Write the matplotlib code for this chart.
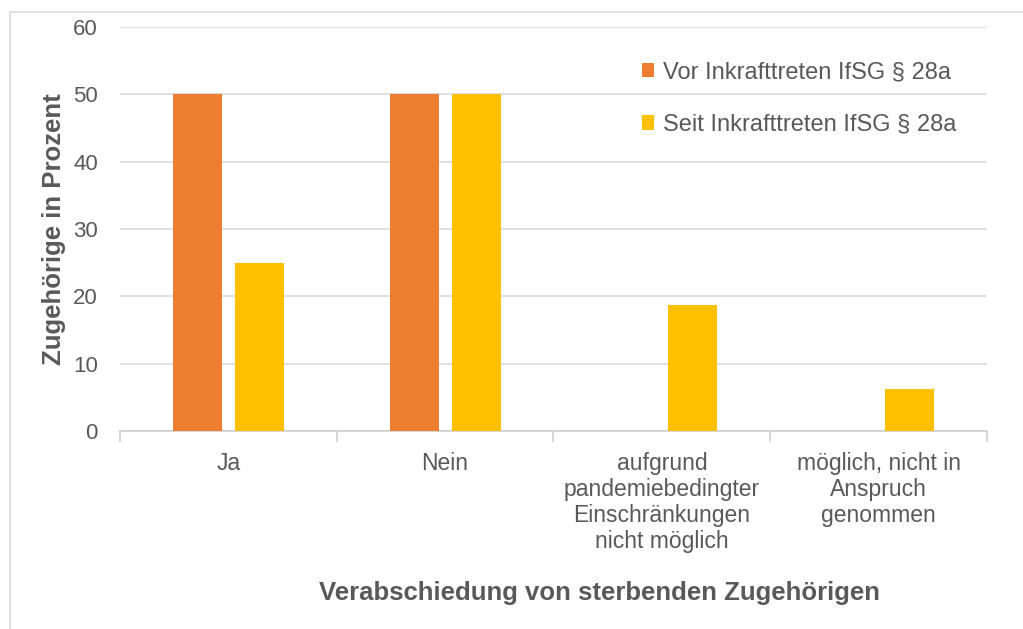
import numpy as np
import matplotlib.pyplot as plt
from matplotlib.patches import Rectangle

categories = ["Ja", "Nein", "aufgrund\npandemiebedingter\nEinschränkungen\nnicht möglich",
              "möglich, nicht in\nAnspruch\ngenommen"]
vor = [50, 50, 0, 0]
seit = [25, 50, 18.75, 6.25]
series_names = ["Vor Inkrafttreten IfSG § 28a", "Seit Inkrafttreten IfSG § 28a"]

plt.rcParams['font.family'] = ['Liberation Sans', 'DejaVu Sans']
grey = "#595959"

fig = plt.figure(figsize=(10.23, 6.29), dpi=100)
ax = fig.add_axes([0.1173, 0.3148, 0.8475, 0.6422])

x = np.arange(len(categories))
w = 0.226
ax.bar(x - 0.143, vor, w, color="#ED7D31", label=series_names[0], zorder=3)
ax.bar(x + 0.143, seit, w, color="#FFC000", label=series_names[1], zorder=3)

ax.set_xlim(-0.5, len(categories) - 0.5)
ax.set_ylim(0, 60)
ax.set_yticks(range(0, 61, 10))
ax.yaxis.grid(True, color="#d9d9d9", linewidth=1.2, zorder=0)
ax.set_axisbelow(True)
for s in ["top", "right", "left"]:
    ax.spines[s].set_visible(False)
ax.spines["bottom"].set_color("#d0d0d0")
ax.spines["bottom"].set_linewidth(1.2)

ax.set_xticks(np.arange(-0.5, len(categories), 1.0))
ax.set_xticklabels([])
ax.set_xticks(x, minor=True)
ax.set_xticklabels(categories, minor=True, fontsize=16.5, color=grey, linespacing=1.17)
ax.tick_params(axis="x", which="major", length=8, color="#d0d0d0", width=1.2)
ax.tick_params(axis="x", which="minor", length=0, pad=15)
ax.tick_params(axis="y", length=0, labelsize=16, labelcolor=grey, pad=16)

ax.set_ylabel("Zugehörige in Prozent", fontsize=18.5, fontweight="bold", color=grey, labelpad=5)
fig.text(0.586, 0.058, "Verabschiedung von sterbenden Zugehörigen", fontsize=18.5,
         fontweight="bold", color=grey, ha="center", va="center")

leg = ax.legend(loc="upper left", bbox_to_anchor=(0.577, 0.968), frameon=False, fontsize=17,
                handlelength=0.55, handleheight=0.55, handletextpad=0.35, labelspacing=1.3,
                labelcolor=grey)

fig.patches.append(Rectangle((0.0098, -0.05), 1.1, 1.031, transform=fig.transFigure,
                             fill=False, edgecolor="#d9d9d9", linewidth=1.2))

fig.savefig("out.png", dpi=100)
